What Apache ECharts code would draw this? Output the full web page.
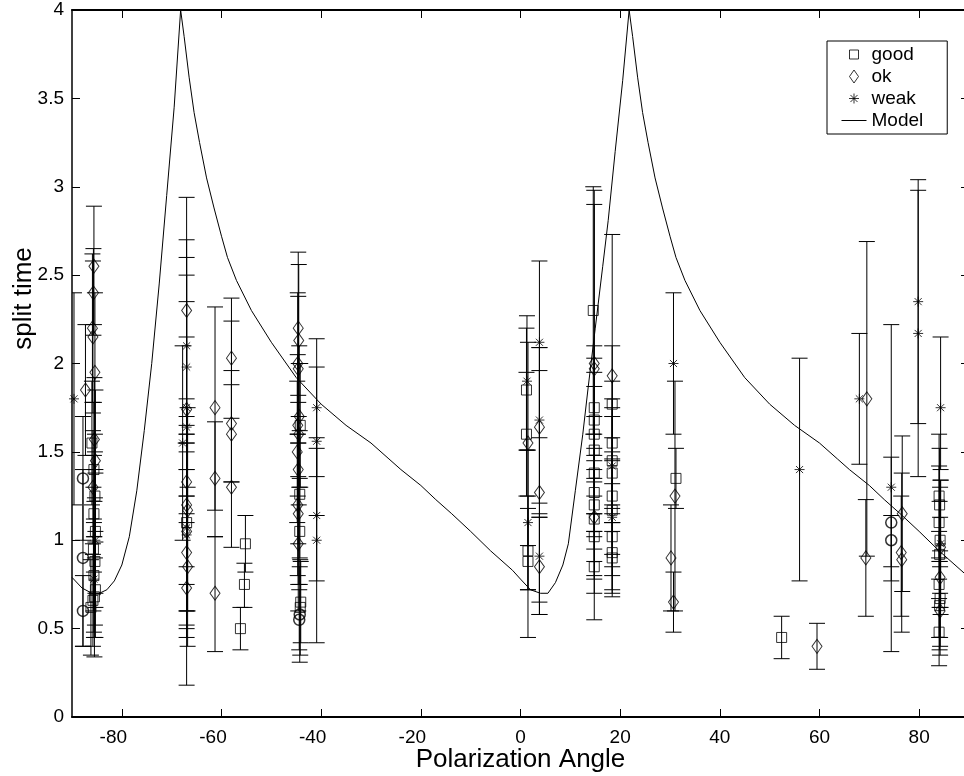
<!DOCTYPE html>
<html>
<head>
<meta charset="utf-8">
<script src="https://cdn.jsdelivr.net/npm/echarts@6/dist/echarts.min.js"></script>
<style>
html,body{margin:0;padding:0;background:#fff;}
#chart{width:964px;height:776px;}
</style>
</head>
<body>
<div id="chart"></div>
<script>
// ---------------- data ----------------
const xTicks = [-80, -60, -40, -20, 0, 20, 40, 60, 80];

// good (squares)
const goodX  = [-86.0,-85.6,-85.4,-85.6,-85.3,-85.7,-85.4,-85.6,-85.3,-85.8,-86.2,-85.5,
                -67.0,-55.2,-55.4,-56.2,
                -44.2,-44.3,-44.3,-44.1,-44.2,
                1.2,1.2,1.5,1.5,
                14.6,14.8,14.8,14.8,14.8,14.8,14.8,14.8,14.8,14.8,14.8,
                18.4,18.4,18.4,18.4,18.4,18.4,18.4,18.4,18.4,
                31.2,52.4,
                84.0,84.1,84.0,84.2,84.1,84.0,84.2,84.1,84.0];
const goodY  = [1.55,1.40,1.25,1.15,1.05,0.95,0.88,0.80,0.72,0.66,0.62,0.68,
                1.10,0.98,0.75,0.50,
                1.65,1.26,1.05,0.65,0.62,
                1.85,1.60,0.94,0.88,
                2.30,1.75,1.68,1.60,1.51,1.38,1.27,1.20,1.12,1.02,0.85,
                1.77,1.55,1.45,1.38,1.25,1.17,1.02,0.93,0.90,
                1.35,0.45,
                1.25,1.20,1.10,1.00,0.92,0.75,0.67,0.63,0.48];
const goodLo = [1.20,1.02,0.90,0.82,0.70,0.60,0.52,0.48,0.45,0.40,0.35,0.34,
                0.60,0.82,0.62,0.38,
                1.30,0.90,0.75,0.42,0.35,
                1.51,1.25,0.72,0.45,
                1.60,1.40,1.33,1.25,1.15,1.05,0.95,0.88,0.80,0.70,0.55,
                1.45,1.20,1.10,1.05,0.92,0.85,0.72,0.68,0.70,
                1.18,0.33,
                0.90,0.88,0.78,0.70,0.62,0.45,0.40,0.38,0.29];
const goodHi = [1.90,1.78,1.60,1.48,1.40,1.30,1.24,1.12,0.99,0.92,0.89,1.02,
                1.60,1.14,0.87,0.62,
                2.00,1.62,1.35,0.88,0.89,
                2.20,1.95,1.18,1.25,
                3.00,2.10,2.03,1.95,1.87,1.70,1.60,1.52,1.45,1.35,1.15,
                2.10,1.90,1.80,1.70,1.58,1.50,1.32,1.18,1.10,
                1.52,0.57,
                1.60,1.52,1.42,1.30,1.22,1.05,0.94,0.88,0.67];

// ok (diamonds)
const okX  = [-87.3,-85.6,-85.7,-85.9,-85.8,-85.4,-85.5,-85.3,-85.8,
              -67.0,-67.0,-67.0,-67.0,-66.8,-67.0,-67.0,-66.8,-67.0,
              -61.3,-61.3,-61.3,
              -58.0,-58.0,-58.0,-58.0,
              -44.6,-44.5,-44.7,-44.6,-44.4,-44.7,-44.5,-44.8,-44.6,-44.7,-44.6,-44.6,
              1.5,3.8,3.8,3.8,
              14.8,14.8,14.8,18.4,
              31.0,30.2,30.7,59.5,
              69.5,69.3,76.6,76.4,76.5,
              84.3,84.2,84.2];
const okY  = [1.85,2.55,2.40,2.20,2.15,1.95,1.57,1.45,1.30,
              2.30,1.74,1.33,1.20,1.17,1.05,0.93,0.85,0.73,
              1.75,1.35,0.70,
              2.03,1.66,1.60,1.30,
              2.20,2.13,2.00,1.97,1.70,1.65,1.60,1.50,1.40,1.20,1.15,0.98,
              1.55,1.64,1.27,0.85,
              2.00,1.97,1.13,1.93,
              1.25,0.90,0.65,0.40,
              1.80,0.90,1.15,0.93,0.89,
              0.96,0.79,0.60];
const okLo = [1.48,2.22,2.16,1.78,1.72,1.50,1.22,1.05,0.98,
              1.65,1.25,0.85,0.75,0.60,0.60,0.45,0.40,0.18,
              1.17,1.02,0.37,
              1.69,1.33,1.33,0.96,
              1.78,1.70,1.60,1.55,1.30,1.25,1.20,1.10,0.98,0.80,0.75,0.60,
              0.97,1.13,0.58,0.58,
              1.02,1.05,0.78,1.15,
              0.60,0.60,0.48,0.27,
              0.91,0.57,0.71,0.57,0.48,
              0.58,0.45,0.35];
const okHi = [2.22,2.89,2.65,2.62,2.58,2.40,1.92,1.85,1.62,
              2.94,2.50,1.80,1.70,1.75,1.50,1.40,1.30,1.25,
              2.32,1.67,1.02,
              2.37,2.24,1.88,1.96,
              2.63,2.56,2.40,2.38,2.10,2.05,2.00,1.90,1.82,1.60,1.55,1.36,
              2.12,2.09,1.96,1.13,
              2.98,2.90,1.48,2.73,
              1.90,1.20,0.82,0.53,
              2.69,1.23,1.59,1.25,1.38,
              1.34,1.13,0.85];

// weak (asterisks)
const weakX  = [-89.6,-85.3,-85.6,
                -67.0,-67.0,-67.0,-67.0,-67.8,-67.0,-67.0,
                -40.9,-40.9,-40.9,-40.9,
                1.3,1.5,3.8,3.8,3.8,
                18.4,18.4,
                30.7,56.0,68.0,74.4,79.8,79.8,84.3,84.3];
const weakY  = [1.80,1.00,0.78,
                2.10,1.98,1.75,1.64,1.55,1.07,1.03,
                1.75,1.56,1.14,1.00,
                1.90,1.10,2.12,1.68,0.91,
                1.42,1.13,
                2.00,1.40,1.80,1.30,2.35,2.17,1.75,0.98];
const weakLo = [1.20,0.62,0.45,
                1.55,1.40,1.15,1.10,1.00,0.50,0.52,
                1.36,1.14,0.77,0.42,
                1.51,0.72,1.58,1.21,0.65,
                1.10,0.80,
                1.60,0.77,1.43,0.37,1.66,1.36,1.40,0.62];
const weakHi = [2.40,1.38,1.10,
                2.70,2.60,2.35,2.15,2.10,1.60,1.55,
                2.14,1.98,1.52,1.58,
                2.27,1.51,2.58,2.09,1.15,
                1.75,1.46,
                2.40,2.03,2.17,2.22,3.04,2.98,2.15,1.34];

// unlabelled circles
const circX  = [-87.8,-87.8,-87.8,-44.3,-44.4,74.4,74.4];
const circY  = [1.35,0.90,0.60,0.58,0.55,1.10,1.00];
const circLo = [1.00,0.40,0.40,0.31,0.38,0.77,0.85];
const circHi = [1.70,1.40,0.80,0.85,0.72,1.47,1.14];

// model curve points
const modelX = [-90,-88,-86,-84.5,-83,-81.5,-80,-78.5,-77,-75.5,-74,-72.5,-71,-69.5,-68.2,
                -67.5,-66.5,-65.5,-64.4,-63,-61.5,-60,-58.8,-57,-54,-50,-45,-40,-35,-30,-26.4,
                -24,-20,-17,-13.8,-10,-6,-1.6,
                0,2,4,5.5,7,8.5,9.6,11,12.5,13.6,15,16.5,17.6,19,20.5,21.8,
                22.5,23.5,24.5,25.6,27,28.5,30,31.2,33,36,40,45,50,55,60,63.6,
                66,70,73,76.2,80,84,88.4,90];
const modelY = [0.79,0.73,0.70,0.70,0.72,0.77,0.86,1.02,1.28,1.62,2.00,2.45,2.95,3.45,4.00,
                3.85,3.62,3.42,3.25,3.05,2.88,2.72,2.60,2.47,2.30,2.12,1.92,1.77,1.65,1.55,1.46,
                1.40,1.31,1.23,1.15,1.05,0.94,0.83,
                0.78,0.72,0.70,0.70,0.76,0.86,0.98,1.28,1.60,1.87,2.20,2.55,2.81,3.20,3.60,4.00,
                3.85,3.62,3.42,3.25,3.05,2.88,2.72,2.60,2.47,2.30,2.12,1.92,1.77,1.65,1.55,1.46,
                1.40,1.31,1.23,1.15,1.05,0.94,0.83,0.79];

// ---------------- build chart ----------------
const FONT = '"Liberation Sans", Arial, Helvetica, sans-serif';
const zip2 = (a, b) => a.map((v, i) => [v, b[i]]);
const zip3 = (a, b, c) => a.map((v, i) => [v, b[i], c[i]]);

const errData = []
  .concat(zip3(goodX, goodLo, goodHi))
  .concat(zip3(okX, okLo, okHi))
  .concat(zip3(weakX, weakLo, weakHi))
  .concat(zip3(circX, circLo, circHi));

function renderErr(params, api) {
  const x = api.value(0), lo = api.value(1), hi = api.value(2);
  const a = api.coord([x, lo]), b = api.coord([x, hi]);
  const hw = 8;
  const st = { stroke: '#000', lineWidth: 1, fill: null };
  return {
    type: 'group',
    children: [
      { type: 'line', shape: { x1: a[0], y1: a[1], x2: b[0], y2: b[1] }, style: st },
      { type: 'line', shape: { x1: a[0] - hw, y1: a[1], x2: a[0] + hw, y2: a[1] }, style: st },
      { type: 'line', shape: { x1: b[0] - hw, y1: b[1], x2: b[0] + hw, y2: b[1] }, style: st }
    ]
  };
}

const hollow = { color: 'rgba(0,0,0,0)', borderColor: '#000', borderWidth: 1 };
const starPath = 'path://M5,0L5,10M0,5L10,5M1.46,1.46L8.54,8.54M1.46,8.54L8.54,1.46';
// legend icons (with invisible margins so they keep a small size)
const iconSquare  = 'path://M0,0M14,14M2.5,2.5L11.5,2.5L11.5,11.5L2.5,11.5Z';
const iconDiamond = 'path://M0,0M14,14M7,0.5L11.5,7L7,13.5L2.5,7Z';
const iconStar    = 'path://M0,0M14,14M7,2L7,12M2,7L12,7M3.46,3.46L10.54,10.54M3.46,10.54L10.54,3.46';
const iconLine    = 'path://M0,0M0,14M0,7L25,7';

const tickFont = 19;
const axisLbl = { color: '#000', fontSize: tickFont, fontFamily: FONT };
const legendIconStyle = { color: 'rgba(0,0,0,0)', borderColor: '#000', borderWidth: 1 };

const chart = echarts.init(document.getElementById('chart'), null, { renderer: 'canvas' });
chart.setOption({
  animation: false,
  backgroundColor: '#fff',
  textStyle: { fontFamily: FONT, color: '#000' },
  grid: { left: 72, top: 10, width: 897, height: 707, containLabel: false, outerBoundsMode: 'none' },
  xAxis: [
    {
      type: 'value', min: -90, max: 90, position: 'bottom',
      name: 'Polarization Angle', nameLocation: 'middle', nameGap: 30, nameMoveOverlap: false,
      nameTextStyle: { fontSize: 26, fontFamily: FONT, color: '#000' },
      axisLine: { show: true, onZero: false, lineStyle: { color: '#000', width: 2 } },
      axisTick: { show: true, inside: true, length: 8, customValues: xTicks, lineStyle: { color: '#000', width: 1 } },
      axisLabel: Object.assign({
        customValues: xTicks, margin: 11,
        formatter: v => (v < 0 ? '{n|' + v + '}' : String(v)),
        rich: { n: { fontSize: tickFont, fontFamily: FONT, color: '#000', padding: [0, 17, 0, 0] } }
      }, axisLbl),
      splitLine: { show: false }
    },
    {
      type: 'value', min: -90, max: 90, position: 'top',
      axisLine: { show: true, onZero: false, lineStyle: { color: '#000', width: 2 } },
      axisTick: { show: true, inside: true, length: 8, customValues: xTicks, lineStyle: { color: '#000', width: 1 } },
      axisLabel: { show: false },
      splitLine: { show: false }
    }
  ],
  yAxis: [
    {
      type: 'value', min: 0, max: 4, interval: 0.5, position: 'left',
      name: 'split time', nameLocation: 'middle', nameGap: 35, nameRotate: 90, nameMoveOverlap: false,
      nameTextStyle: { fontSize: 26, fontFamily: FONT, color: '#000', padding: [0, 0, 0, 130] },
      axisLine: { show: true, onZero: false, lineStyle: { color: '#000', width: 1.5 } },
      axisTick: { show: true, inside: true, length: 8, lineStyle: { color: '#000', width: 1 } },
      axisLabel: Object.assign({ margin: 8 }, axisLbl),
      splitLine: { show: false }
    },
    {
      type: 'value', min: 0, max: 4, interval: 0.5, position: 'right',
      axisLine: { show: true, onZero: false, lineStyle: { color: '#000', width: 1.5 } },
      axisTick: { show: true, inside: true, length: 8, lineStyle: { color: '#000', width: 1 } },
      axisLabel: { show: false },
      splitLine: { show: false }
    }
  ],
  legend: {
    data: [
      { name: 'good', icon: iconSquare, itemStyle: legendIconStyle },
      { name: 'ok', icon: iconDiamond, itemStyle: legendIconStyle },
      { name: 'weak', icon: iconStar, itemStyle: legendIconStyle },
      { name: 'Model', icon: iconLine, itemStyle: legendIconStyle }
    ],
    orient: 'vertical',
    left: 827, top: 41,
    padding: [4, 24, 4, 14],
    itemWidth: 25, itemHeight: 14, itemGap: 3,
    backgroundColor: '#fff',
    borderColor: '#000', borderWidth: 1, borderRadius: 0,
    textStyle: { fontSize: 19, fontFamily: FONT, color: '#000' }
  },
  series: [
    {
      name: 'errorbars', type: 'custom', renderItem: renderErr, data: errData,
      encode: { x: 0, y: [1, 2] }, clip: true, silent: true, z: 1
    },
    {
      name: 'good', type: 'scatter', data: zip2(goodX, goodY),
      symbol: 'rect', symbolSize: 10, itemStyle: hollow, z: 3, clip: true
    },
    {
      name: 'ok', type: 'scatter', data: zip2(okX, okY),
      symbol: 'diamond', symbolSize: [10, 14], itemStyle: hollow, z: 3, clip: true
    },
    {
      name: 'weak', type: 'scatter', data: zip2(weakX, weakY),
      symbol: starPath, symbolSize: 10, itemStyle: hollow, z: 3, clip: true
    },
    {
      name: 'circles', type: 'scatter', data: zip2(circX, circY),
      symbol: 'circle', symbolSize: 11, itemStyle: { color: 'rgba(0,0,0,0)', borderColor: '#000', borderWidth: 1.5 }, z: 3, clip: true
    },
    {
      name: 'Model', type: 'line', data: zip2(modelX, modelY),
      showSymbol: false, symbol: 'none', smooth: false, clip: true,
      lineStyle: { color: '#000', width: 1 }, itemStyle: { color: '#000' }, z: 2
    }
  ]
});
</script>
</body>
</html>
